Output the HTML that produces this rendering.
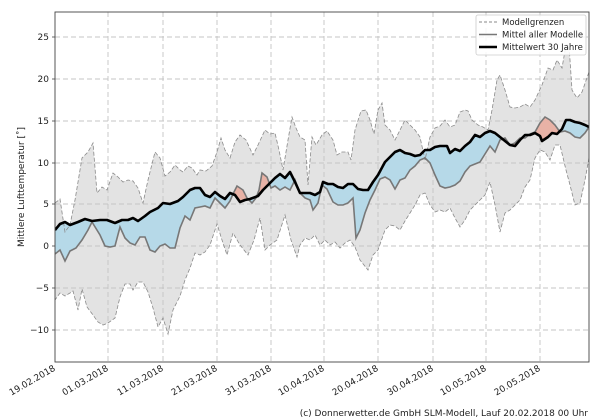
<!DOCTYPE html>
<html><head><meta charset="utf-8"><style>body{margin:0;background:#fff}svg{display:block;font-family:"DejaVu Sans","Liberation Sans",sans-serif}</style></head><body>
<svg width="600" height="420" viewBox="0 0 600 420">
<defs>
<clipPath id="plot"><rect x="55" y="12" width="534" height="350"/></clipPath>
<clipPath id="aboveGray"><polygon points="55,0 55,254 60,250 65,261 70,251 76,248 82,240 88,230 92,222 100,235 105,246 110,247 115,246 120,227 125,238 130,243 135,245 140,237 145,237 150,250 155,252 160,246 165,244 170,248 175,248 180,228 185,216 190,220 195,208 200,207 205,206 210,208 215,198 220,203 225,208 230,201 233,194 237,186 243,190 247,198 252,203 256,198 259,190 262,173 267,177 271,188 275,186 280,190 285,187 290,190 295,180 300,193 305,198 310,200 313,210 318,203 322,185 327,189 333,202 338,205 343,205 348,203 353,198 356,238 360,230 365,213 370,200 375,190 380,179 385,177 390,180 395,189 400,180 405,178 410,170 415,166 420,160 425,158 430,163 435,175 440,186 445,188 450,187 455,185 460,181 465,172 470,166 475,164 480,162 485,154 490,146 495,152 500,140 505,138 510,145 515,143 520,138 525,138 530,134 535,132 540,123 545,117 550,120 555,125 560,132 565,131 570,133 575,137 580,138 585,133 589,127 589,0"/></clipPath>
<clipPath id="belowGray"><polygon points="55,420 55,254 60,250 65,261 70,251 76,248 82,240 88,230 92,222 100,235 105,246 110,247 115,246 120,227 125,238 130,243 135,245 140,237 145,237 150,250 155,252 160,246 165,244 170,248 175,248 180,228 185,216 190,220 195,208 200,207 205,206 210,208 215,198 220,203 225,208 230,201 233,194 237,186 243,190 247,198 252,203 256,198 259,190 262,173 267,177 271,188 275,186 280,190 285,187 290,190 295,180 300,193 305,198 310,200 313,210 318,203 322,185 327,189 333,202 338,205 343,205 348,203 353,198 356,238 360,230 365,213 370,200 375,190 380,179 385,177 390,180 395,189 400,180 405,178 410,170 415,166 420,160 425,158 430,163 435,175 440,186 445,188 450,187 455,185 460,181 465,172 470,166 475,164 480,162 485,154 490,146 495,152 500,140 505,138 510,145 515,143 520,138 525,138 530,134 535,132 540,123 545,117 550,120 555,125 560,132 565,131 570,133 575,137 580,138 585,133 589,127 589,420"/></clipPath>
</defs>
<g clip-path="url(#plot)">
<polygon fill="#e3e3e3" stroke="none" points="55,203 60,199 65,232 70,225 75,200 82,158 88,152 93,143 97,193 102,187 107,190 113,173 118,177 123,182 128,180 133,181 138,188 143,203 148,180 155,152 160,158 165,176 170,172 175,165 180,170 183,172 188,166 192,168 197,175 200,170 206,171 212,166 217,152 221,138 225,150 230,158 235,142 240,135 246,140 253,155 258,145 265,130 270,134 275,133 279,150 283,170 288,140 292,117 296,128 300,137 305,140 308,185 312,137 316,145 322,135 327,131 333,140 337,155 342,152 348,152 351,160 355,130 361,111 366,110 370,120 374,134 378,110 382,103 385,125 390,130 395,140 400,130 405,120 410,125 415,130 420,137 425,160 430,137 435,128 440,126 445,120 450,127 455,125 460,112 465,110 468,111 472,120 478,125 483,127 488,130 492,110 497,80 500,75 505,90 510,107 515,108 520,107 525,104 530,107 535,100 542,85 548,68 553,70 557,60 562,68 566,45 569,45 572,90 577,98 582,92 589,72 589,158 585,180 580,203 575,205 570,185 566,170 560,145 555,145 550,160 545,152 540,150 535,158 530,180 525,187 520,200 515,205 510,210 505,213 500,232 495,205 490,182 485,195 480,200 475,205 470,210 465,220 460,227 455,218 450,208 445,212 440,210 435,212 430,205 425,193 420,195 415,205 410,213 405,221 400,230 395,226 390,225 385,230 378,250 373,255 368,270 360,260 355,247 350,240 345,243 340,248 335,242 330,245 325,240 320,245 315,235 310,240 305,238 300,245 297,257 291,240 285,215 277,240 270,245 265,250 260,218 254,240 248,255 240,245 233,233 227,255 222,240 217,224 210,245 205,252 200,255 195,253 190,268 185,280 180,296 173,310 168,334 163,318 158,327 153,308 148,292 143,282 138,282 133,290 130,284 125,284 120,297 115,318 108,323 103,325 98,322 93,315 87,307 82,289 78,310 73,291 70,293 65,296 60,293 55,300"/>
<g stroke="#c4c4c4" stroke-width="0.9" stroke-dasharray="5,3">
<line x1="55" y1="37" x2="589" y2="37"/><line x1="55" y1="79" x2="589" y2="79"/><line x1="55" y1="121" x2="589" y2="121"/><line x1="55" y1="163" x2="589" y2="163"/><line x1="55" y1="204" x2="589" y2="204"/><line x1="55" y1="246" x2="589" y2="246"/><line x1="55" y1="288" x2="589" y2="288"/><line x1="55" y1="330" x2="589" y2="330"/>
<line x1="108" y1="12" x2="108" y2="362"/><line x1="163" y1="12" x2="163" y2="362"/><line x1="217" y1="12" x2="217" y2="362"/><line x1="271" y1="12" x2="271" y2="362"/><line x1="324" y1="12" x2="324" y2="362"/><line x1="378" y1="12" x2="378" y2="362"/><line x1="433" y1="12" x2="433" y2="362"/><line x1="486" y1="12" x2="486" y2="362"/><line x1="540" y1="12" x2="540" y2="362"/>
</g>
<polygon fill="#b6d9e8" clip-path="url(#aboveGray)" points="55,420 55,230 60,224 65,222 70,225 78,222 85,219 92,221 100,220 107,220 115,223 122,220 128,220 133,218 138,221 145,216 150,212 158,208 163,203 170,204 178,201 183,197 190,190 195,188 200,188 205,195 210,197 215,192 220,196 225,199 230,193 235,195 240,202 245,200 250,199 258,196 263,190 270,183 275,178 280,174 285,178 290,172 295,182 300,193 310,193 315,195 320,192 323,182 328,184 333,184 338,187 343,188 348,184 353,184 358,189 363,190 368,190 373,182 378,175 385,162 390,157 395,152 400,150 405,153 410,154 415,156 420,155 425,150 430,150 435,147 440,146 447,146 450,153 455,149 460,151 465,146 470,142 475,135 480,137 485,133 490,131 495,133 500,137 505,141 510,145 515,146 520,140 525,135 530,135 535,133 540,136 542,141 548,137 552,133 557,134 562,129 566,120 570,120 575,122 580,123 585,125 589,127 589,420"/>
<polygon fill="#e8b2a6" clip-path="url(#belowGray)" points="55,0 55,230 60,224 65,222 70,225 78,222 85,219 92,221 100,220 107,220 115,223 122,220 128,220 133,218 138,221 145,216 150,212 158,208 163,203 170,204 178,201 183,197 190,190 195,188 200,188 205,195 210,197 215,192 220,196 225,199 230,193 235,195 240,202 245,200 250,199 258,196 263,190 270,183 275,178 280,174 285,178 290,172 295,182 300,193 310,193 315,195 320,192 323,182 328,184 333,184 338,187 343,188 348,184 353,184 358,189 363,190 368,190 373,182 378,175 385,162 390,157 395,152 400,150 405,153 410,154 415,156 420,155 425,150 430,150 435,147 440,146 447,146 450,153 455,149 460,151 465,146 470,142 475,135 480,137 485,133 490,131 495,133 500,137 505,141 510,145 515,146 520,140 525,135 530,135 535,133 540,136 542,141 548,137 552,133 557,134 562,129 566,120 570,120 575,122 580,123 585,125 589,127 589,0"/>
<polyline fill="none" stroke="#8a8a8a" stroke-width="0.8" stroke-dasharray="4,2" points="55,203 60,199 65,232 70,225 75,200 82,158 88,152 93,143 97,193 102,187 107,190 113,173 118,177 123,182 128,180 133,181 138,188 143,203 148,180 155,152 160,158 165,176 170,172 175,165 180,170 183,172 188,166 192,168 197,175 200,170 206,171 212,166 217,152 221,138 225,150 230,158 235,142 240,135 246,140 253,155 258,145 265,130 270,134 275,133 279,150 283,170 288,140 292,117 296,128 300,137 305,140 308,185 312,137 316,145 322,135 327,131 333,140 337,155 342,152 348,152 351,160 355,130 361,111 366,110 370,120 374,134 378,110 382,103 385,125 390,130 395,140 400,130 405,120 410,125 415,130 420,137 425,160 430,137 435,128 440,126 445,120 450,127 455,125 460,112 465,110 468,111 472,120 478,125 483,127 488,130 492,110 497,80 500,75 505,90 510,107 515,108 520,107 525,104 530,107 535,100 542,85 548,68 553,70 557,60 562,68 566,45 569,45 572,90 577,98 582,92 589,72"/>
<polyline fill="none" stroke="#8a8a8a" stroke-width="0.8" stroke-dasharray="4,2" points="589,158 585,180 580,203 575,205 570,185 566,170 560,145 555,145 550,160 545,152 540,150 535,158 530,180 525,187 520,200 515,205 510,210 505,213 500,232 495,205 490,182 485,195 480,200 475,205 470,210 465,220 460,227 455,218 450,208 445,212 440,210 435,212 430,205 425,193 420,195 415,205 410,213 405,221 400,230 395,226 390,225 385,230 378,250 373,255 368,270 360,260 355,247 350,240 345,243 340,248 335,242 330,245 325,240 320,245 315,235 310,240 305,238 300,245 297,257 291,240 285,215 277,240 270,245 265,250 260,218 254,240 248,255 240,245 233,233 227,255 222,240 217,224 210,245 205,252 200,255 195,253 190,268 185,280 180,296 173,310 168,334 163,318 158,327 153,308 148,292 143,282 138,282 133,290 130,284 125,284 120,297 115,318 108,323 103,325 98,322 93,315 87,307 82,289 78,310 73,291 70,293 65,296 60,293 55,300"/>
<polyline fill="none" stroke="#777" stroke-width="1.6" points="55,254 60,250 65,261 70,251 76,248 82,240 88,230 92,222 100,235 105,246 110,247 115,246 120,227 125,238 130,243 135,245 140,237 145,237 150,250 155,252 160,246 165,244 170,248 175,248 180,228 185,216 190,220 195,208 200,207 205,206 210,208 215,198 220,203 225,208 230,201 233,194 237,186 243,190 247,198 252,203 256,198 259,190 262,173 267,177 271,188 275,186 280,190 285,187 290,190 295,180 300,193 305,198 310,200 313,210 318,203 322,185 327,189 333,202 338,205 343,205 348,203 353,198 356,238 360,230 365,213 370,200 375,190 380,179 385,177 390,180 395,189 400,180 405,178 410,170 415,166 420,160 425,158 430,163 435,175 440,186 445,188 450,187 455,185 460,181 465,172 470,166 475,164 480,162 485,154 490,146 495,152 500,140 505,138 510,145 515,143 520,138 525,138 530,134 535,132 540,123 545,117 550,120 555,125 560,132 565,131 570,133 575,137 580,138 585,133 589,127"/>
<polyline fill="none" stroke="#000" stroke-width="2.6" stroke-linejoin="round" points="55,230 60,224 65,222 70,225 78,222 85,219 92,221 100,220 107,220 115,223 122,220 128,220 133,218 138,221 145,216 150,212 158,208 163,203 170,204 178,201 183,197 190,190 195,188 200,188 205,195 210,197 215,192 220,196 225,199 230,193 235,195 240,202 245,200 250,199 258,196 263,190 270,183 275,178 280,174 285,178 290,172 295,182 300,193 310,193 315,195 320,192 323,182 328,184 333,184 338,187 343,188 348,184 353,184 358,189 363,190 368,190 373,182 378,175 385,162 390,157 395,152 400,150 405,153 410,154 415,156 420,155 425,150 430,150 435,147 440,146 447,146 450,153 455,149 460,151 465,146 470,142 475,135 480,137 485,133 490,131 495,133 500,137 505,141 510,145 515,146 520,140 525,135 530,135 535,133 540,136 542,141 548,137 552,133 557,134 562,129 566,120 570,120 575,122 580,123 585,125 589,127"/>
</g>
<rect x="55" y="12" width="534" height="350" fill="none" stroke="#444" stroke-width="0.9"/>
<g font-size="9" fill="#222" text-anchor="end">
<text x="49" y="40">25</text><text x="49" y="82">20</text><text x="49" y="124">15</text><text x="49" y="166">10</text><text x="49" y="207">5</text><text x="49" y="249">0</text><text x="49" y="291">−5</text><text x="49" y="333">−10</text>
</g>
<g stroke="#444" stroke-width="0.8">
<line x1="52" y1="37" x2="55" y2="37"/><line x1="52" y1="79" x2="55" y2="79"/><line x1="52" y1="121" x2="55" y2="121"/><line x1="52" y1="163" x2="55" y2="163"/><line x1="52" y1="204" x2="55" y2="204"/><line x1="52" y1="246" x2="55" y2="246"/><line x1="52" y1="288" x2="55" y2="288"/><line x1="52" y1="330" x2="55" y2="330"/>
</g>
<text transform="translate(24,187) rotate(-90)" font-size="9" fill="#222" text-anchor="middle">Mittlere Lufttemperatur [˚]</text>
<g font-size="9" fill="#222" text-anchor="end">
<text transform="translate(56,370) rotate(-30)">19.02.2018</text>
<text transform="translate(109,370) rotate(-30)">01.03.2018</text>
<text transform="translate(164,370) rotate(-30)">11.03.2018</text>
<text transform="translate(218,370) rotate(-30)">21.03.2018</text>
<text transform="translate(272,370) rotate(-30)">31.03.2018</text>
<text transform="translate(325,370) rotate(-30)">10.04.2018</text>
<text transform="translate(379,370) rotate(-30)">20.04.2018</text>
<text transform="translate(434,370) rotate(-30)">30.04.2018</text>
<text transform="translate(487,370) rotate(-30)">10.05.2018</text>
<text transform="translate(541,370) rotate(-30)">20.05.2018</text>
</g>
<text x="588" y="416" font-size="9" fill="#222" text-anchor="end">(c) Donnerwetter.de GmbH SLM-Modell, Lauf 20.02.2018 00 Uhr</text>
<rect x="476" y="15" width="110" height="40" fill="#fff" fill-opacity="0.85" stroke="#ccc" stroke-width="0.8" rx="2"/>
<line x1="479" y1="22" x2="497" y2="22" stroke="#888" stroke-width="0.9" stroke-dasharray="3,2"/>
<line x1="479" y1="34.5" x2="497" y2="34.5" stroke="#777" stroke-width="1.6"/>
<line x1="479" y1="47" x2="497" y2="47" stroke="#000" stroke-width="2.6"/>
<g font-size="8.5" fill="#222"><text x="502" y="25">Modellgrenzen</text><text x="502" y="37.5">Mittel aller Modelle</text><text x="502" y="50">Mittelwert 30 Jahre</text></g>
</svg>
</body></html>
